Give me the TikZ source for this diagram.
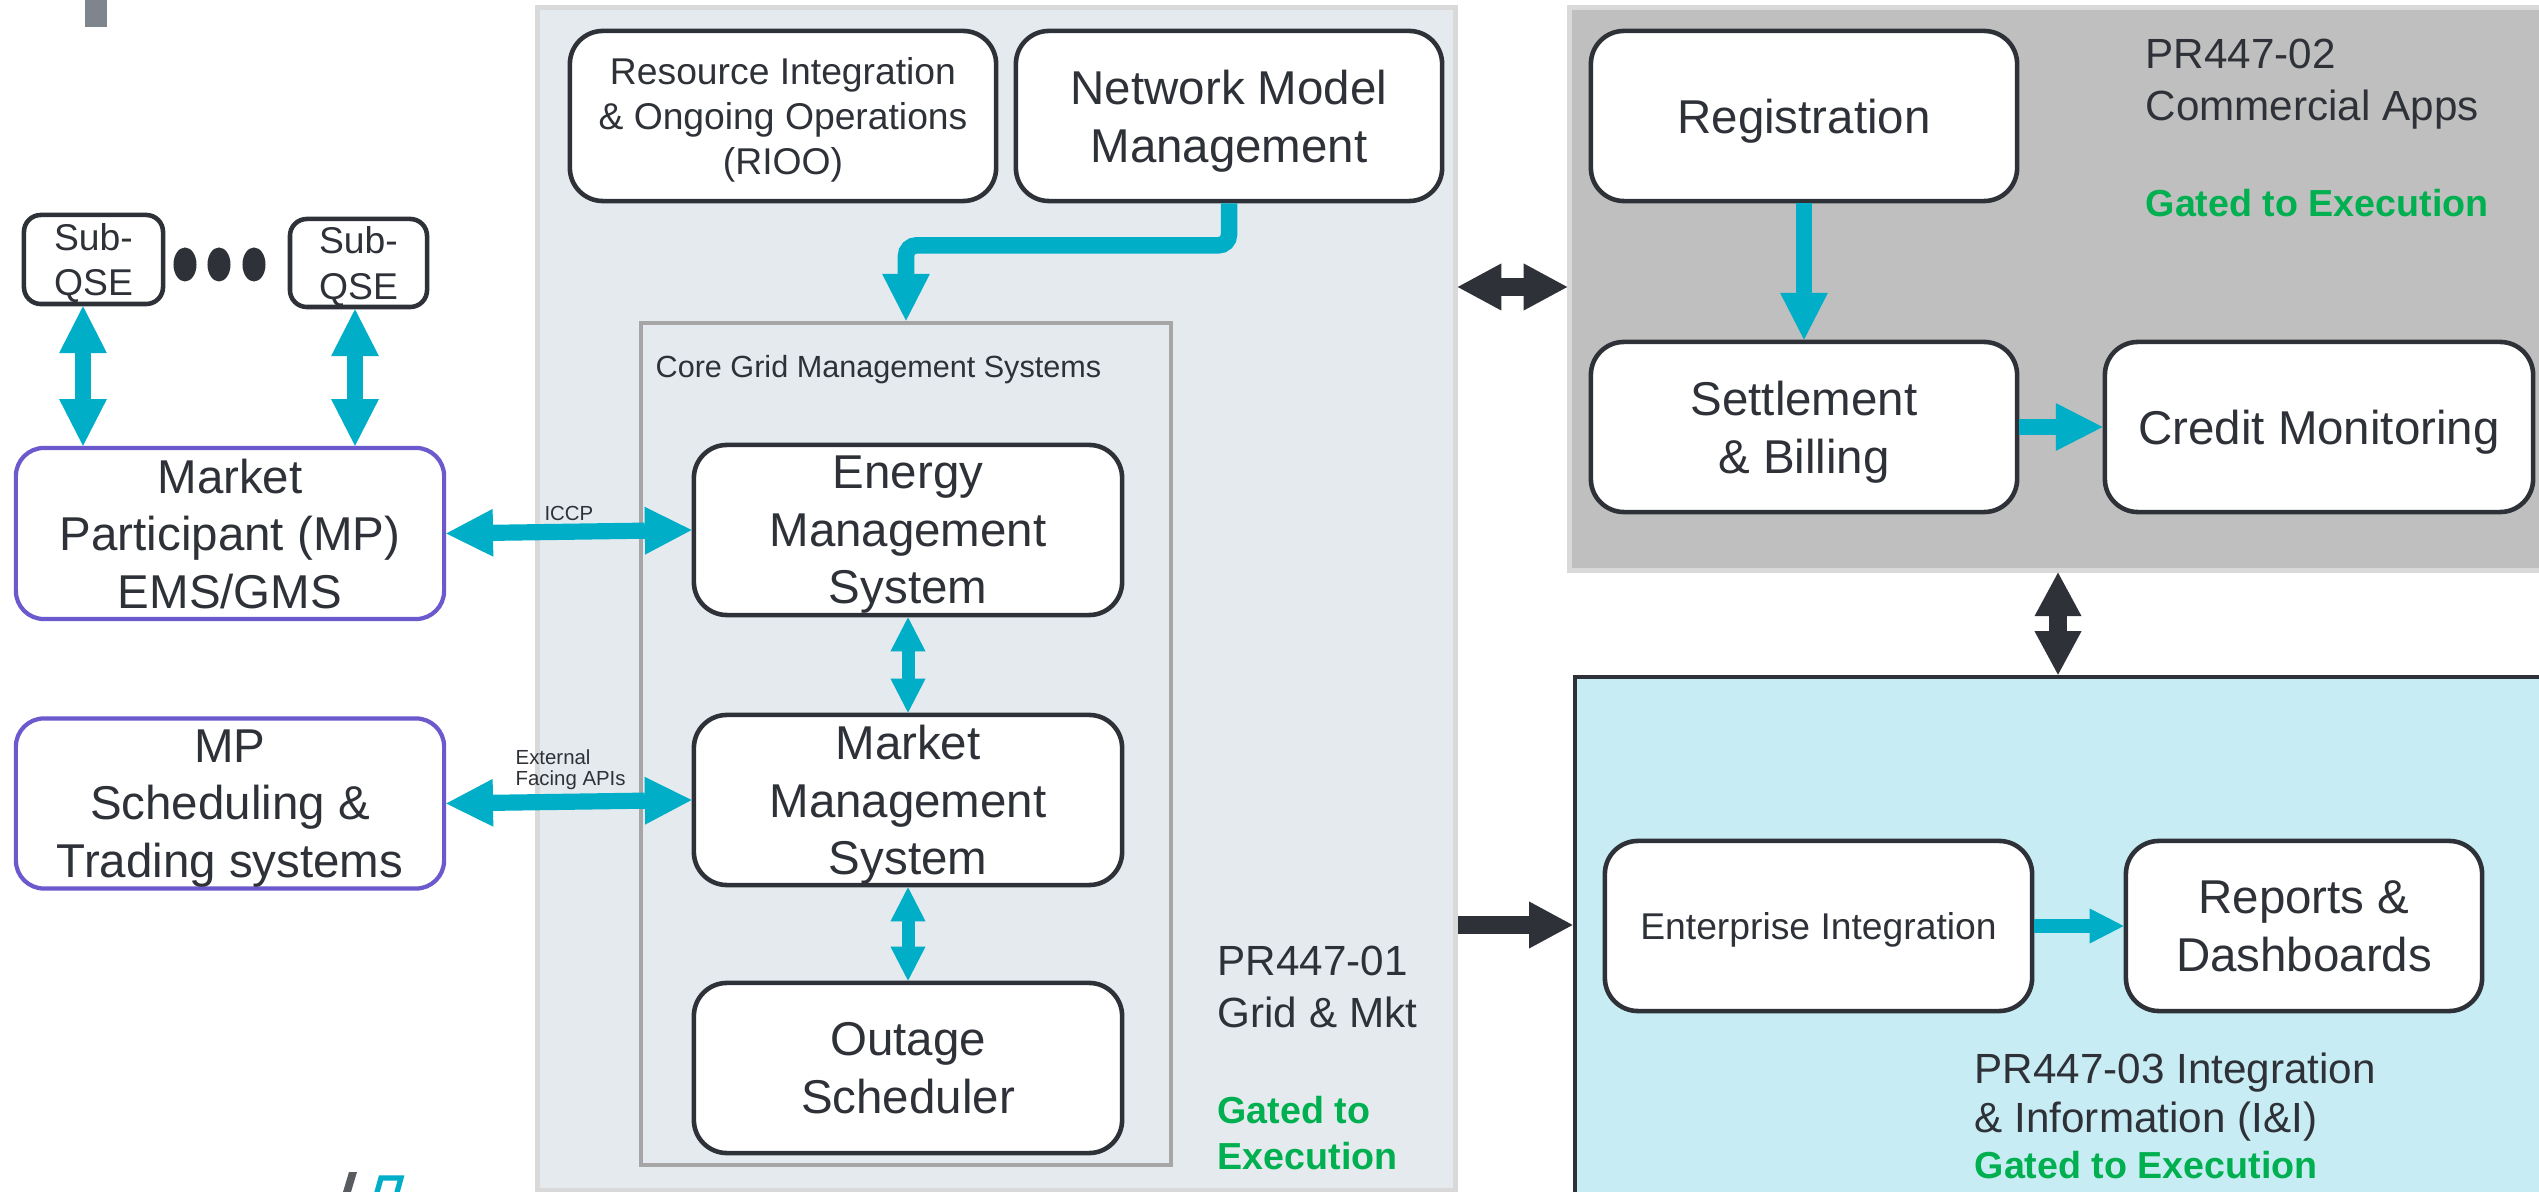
\documentclass[tikz,border=0pt]{standalone}
\usepackage{fontspec}
\setmainfont{Liberation Sans}
\usepackage{tikz}
\usetikzlibrary{arrows.meta, positioning}
\definecolor{ink}{RGB}{46, 50, 56}
\definecolor{flowcyan}{RGB}{0, 174, 199}
\definecolor{mppurple}{RGB}{106, 90, 205}
\definecolor{gatedgreen}{RGB}{0, 176, 80}
\definecolor{gridpane}{RGB}{229, 234, 238}
\definecolor{commpane}{RGB}{191, 191, 191}
\definecolor{infopane}{RGB}{200, 236, 243}
\definecolor{paneedge}{RGB}{217, 217, 217}
\definecolor{coreedge}{RGB}{166, 166, 166}
\definecolor{titlebar}{RGB}{127, 133, 140}

\tikzset{
  bigtip/.tip={Triangle[length=13.3pt, width=13.6pt, line width=0pt]},
  smalltip/.tip={Triangle[length=9.7pt, width=10pt, line width=0pt]},
  darktip/.tip={Triangle[length=12.4pt, width=13.4pt, line width=0pt]},
  sysbox/.style={draw=ink, line width=1.3pt, fill=white, rounded corners=9.4pt, align=center,
    inner sep=0pt, text depth=0pt, minimum width=4.26cm, minimum height=1.70cm, font=\fontsize{13.5}{16.4}\selectfont},
  smallbox/.style={sysbox, font=\fontsize{10.6}{12.8}\selectfont},
  qsebox/.style={sysbox, rounded corners=4.8pt, text depth=-1.4pt, font=\fontsize{10.6}{12.8}\selectfont},
  mpbox/.style={sysbox, draw=mppurple, line width=1.2pt, rounded corners=8pt},
  pane/.style={line width=1.4pt, inner sep=0pt},
  panetext/.style={align=left, inner sep=0pt, font=\fontsize{12}{14.8}\selectfont},
  gated/.style={align=left, inner sep=0pt, text=gatedgreen, font=\fontsize{10.7}{13}\selectfont\bfseries},
  linklabel/.style={align=left, inner sep=0pt, font=\fontsize{5.8}{6}\selectfont},
  cyanflow/.style={draw=flowcyan, line width=4.7pt, -bigtip},
  cyanboth/.style={draw=flowcyan, line width=4.6pt, bigtip-bigtip},
  cyanshort/.style={draw=flowcyan, line width=3.7pt, smalltip-smalltip},
  cyanhop/.style={draw=flowcyan, line width=3.7pt, -smalltip},
  darkflow/.style={draw=ink, line width=5pt, -darktip},
  darkboth/.style={draw=ink, line width=5pt, darktip-darktip},
}

\begin{document}
\begin{tikzpicture}[x=0.01cm, y=-0.01cm, text=ink]
    \useasboundingbox (0,0) rectangle (2539,1192);
    \clip (0,0) rectangle (2539,1192);
    \fill[white] (0,0) rectangle (2539,1192);

    % panes
    \node[pane, draw=paneedge, fill=gridpane, minimum width=9.17cm, minimum height=11.82cm] (grid) at (996.5,599) {};
    \node[pane, draw=paneedge, fill=commpane, minimum width=10.3cm, minimum height=5.62cm] (comm) at (2085,289) {};
    \node[pane, draw=ink, line width=1.2pt, fill=infopane, minimum width=10.25cm, minimum height=5.73cm] (info) at (2087.5,963.5) {};
    \node[draw=coreedge, line width=1.2pt, inner sep=0pt, minimum width=5.30cm, minimum height=8.42cm] (core) at (906,744) {};
    \node[anchor=base west, inner sep=0pt, font=\fontsize{8.7}{10}\selectfont] (coretitle) at (655,378) {Core Grid Management Systems};

    \fill[titlebar] (85,0) rectangle (107,27);
    \fill[ink!80] (343,1192) -- (349,1172) -- (357,1172) -- (351,1192) -- cycle;
    \draw[flowcyan, line width=1.5pt] (376,1196) -- (381,1178) -- (401,1178) -- (396,1196);

    % systems
    \node[smallbox] (rioo) at (783,116) {Resource Integration\\\& Ongoing Operations\\(RIOO)};
    \node[sysbox] (nmm) at (1229,116) {Network Model\\Management};
    \node[sysbox] (reg) at (1804,116) {Registration};
    \node[sysbox] (settle) at (1804,427) {Settlement\\\& Billing};
    \node[sysbox, minimum width=4.28cm] (credit) at (2319,427) {Credit Monitoring};
    \node[sysbox, minimum width=4.28cm] (ems) at (908,530) {Energy\\Management\\System};
    \node[sysbox, minimum width=4.28cm] (mms) at (908,800) {Market\\Management\\System};
    \node[sysbox, minimum width=4.28cm] (outage) at (908,1068) {Outage\\Scheduler};
    \node[smallbox, minimum width=4.27cm] (entint) at (1818.5,926) {Enterprise Integration};
    \node[sysbox, minimum width=3.56cm] (reports) at (2304,926) {Reports \&\\Dashboards};

    % market participants
    \node[qsebox, minimum width=1.39cm, minimum height=0.89cm] (qseA) at (93.5,259.5) {Sub-\\QSE};
    \node[qsebox, minimum width=1.37cm, minimum height=0.88cm] (qseB) at (358.5,263) {Sub-\\QSE};
    \foreach \dotx in {185,219,254}
        \fill[ink] (\dotx,264.5) ellipse [x radius=0.115cm, y radius=0.17cm];
    \node[mpbox, minimum width=4.28cm, minimum height=1.71cm] (mpems) at (230,533.5) {Market\\Participant (MP)\\EMS/GMS};
    \node[mpbox, minimum width=4.28cm] (mpsched) at (230,803.5) {MP\\Scheduling \&\\Trading systems};

    % pane labels
    \node[panetext, anchor=north west] (gridlabel) at (1217,945) {PR447-01\\Grid \& Mkt};
    \node[gated, anchor=north west] (gridgate) at (1217,1096) {Gated to\\Execution};
    \node[panetext, anchor=north west] (commlabel) at (2145,38) {PR447-02\\Commercial Apps};
    \node[gated, anchor=base west] (commgate) at (2145,217) {Gated to Execution};
    \node[panetext, anchor=north west, font=\fontsize{12}{13.9}\selectfont] (infolabel) at (1974,1052) {PR447-03 Integration\\\& Information (I\&I)};
    \node[gated, anchor=base west] (infogate) at (1974,1179) {Gated to Execution};

    % connectors
    \draw[cyanboth] (qseA.south -| 83,0) -- (mpems.north -| 83,0);
    \draw[cyanboth] (qseB.south -| 355,0) -- (mpems.north -| 355,0);
    \draw[cyanboth] (mpems.east) -- node[linklabel, above=0.8pt] (iccp) {ICCP} (ems.west);
    \draw[cyanboth] (mpsched.east) -- node[linklabel, pos=0.25, anchor=south west, yshift=1.4pt] (extapi) {External\\Facing APIs} (mms.west);
    \draw[cyanflow, rounded corners=3pt] (nmm.south) -- ++(0,42) -| (core.north);
    \draw[cyanshort] (ems.south) -- (mms.north);
    \draw[cyanshort] (mms.south) -- (outage.north);
    \draw[cyanflow] (reg.south) -- (settle.north);
    \draw[cyanflow] (settle.east) -- (credit.west);
    \draw[cyanhop] (entint.east) -- (reports.west);
    \draw[darkboth] (grid.east |- 0,287) -- (comm.west |- 0,287);
    \draw[darkflow] (grid.east |- 0,925) -- (info.west |- 0,925);
    \draw[darkboth] (comm.south -| 2058,0) -- (info.north -| 2058,0);
\end{tikzpicture}
\end{document}
